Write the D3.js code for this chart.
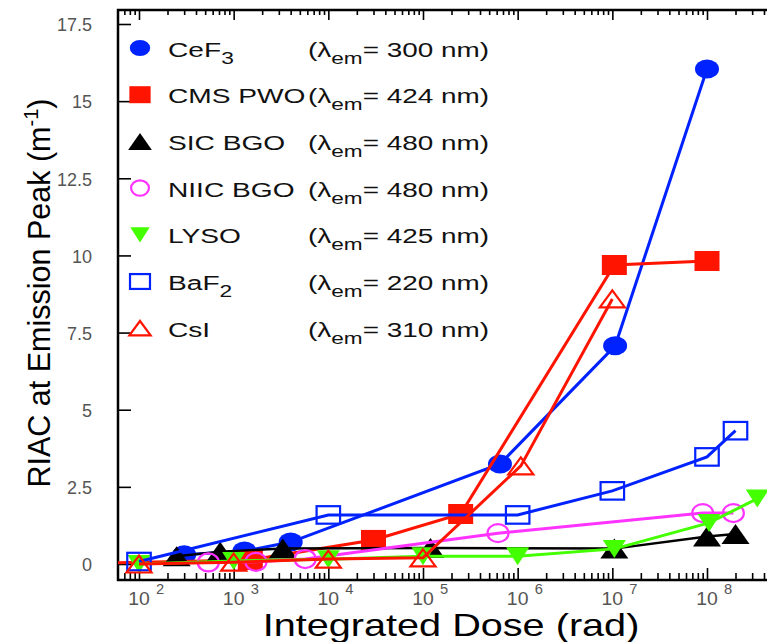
<!DOCTYPE html>
<html>
<head>
<meta charset="utf-8">
<script src="https://cdn.jsdelivr.net/npm/d3@7"></script>
<style>
  body { margin: 0; background: #fff; }
  svg { display: block; font-family: "Liberation Sans", Arial, sans-serif; }
</style>
</head>
<body>
<div id="chart"></div>
<script>
'use strict';

// ---- data ----
const seriesNames = ['CeF', 'CMS PWO', 'SIC BGO', 'NIIC BGO', 'LYSO', 'BaF', 'CsI'];
const nameSubscripts = ['3', '', '', '', '', '2', ''];
const emissionPeaks = [300, 424, 480, 480, 425, 220, 310];

const doseCeF3 = [300, 1300, 4000, 6.5e5, 1.07e7, 1e8];
const riacCeF3 = [0.3, 0.42, 0.71, 3.24, 7.07, 16.04];

const doseCmsPwo = [30, 1500, 3e4, 2.5e5, 1.05e7, 1e8];
const riacCmsPwo = [0.02, 0.13, 0.78, 1.62, 9.69, 9.82];

const doseSicBgo = [250, 720, 3300, 1.2e5, 1.05e7, 1e8, 2e8];
const riacSicBgo = [0.25, 0.4, 0.5, 0.52, 0.5, 0.89, 0.97];

const doseNiicBgo = [540, 1720, 5700, 6.2e5, 9e7, 1.9e8];
const riacNiicBgo = [0.05, 0.07, 0.16, 1.0, 1.65, 1.65];

const doseLyso = [100, 1000, 1e4, 1e5, 1e6, 1.05e7, 1.05e8, 3.4e8];
const riacLyso = [0.0, 0.1, 0.15, 0.25, 0.25, 0.49, 1.33, 2.12];

const doseBaF2 = [100, 1e4, 1e6, 1e7, 1e8, 2e8];
const riacBaF2 = [0.08, 1.59, 1.59, 2.37, 3.47, 4.32];

const doseCsI = [100, 1000, 1e4, 1e5, 1.08e6, 1e7];
const riacCsI = [0.0, 0.06, 0.16, 0.2, 3.18, 8.59];

const xDecades = [2, 3, 4, 5, 6, 7, 8];
const yTicks = [0, 2.5, 5, 7.5, 10, 12.5, 15, 17.5];
const yTickLabels = ['0', '2.5', '5', '7.5', '10', '12.5', '15', '17.5'];

const seriesDoses = [doseCeF3, doseCmsPwo, doseSicBgo, doseNiicBgo, doseLyso, doseBaF2, doseCsI];
const seriesRiac = [riacCeF3, riacCmsPwo, riacSicBgo, riacNiicBgo, riacLyso, riacBaF2, riacCsI];

// ---- styles ----
const styles = [
  {color: '#0022ff', shape: 'circle', filled: true, w: 24, h: 19},
  {color: '#ff1400', shape: 'square', filled: true, w: 25, h: 20},
  {color: '#000000', shape: 'triangle', filled: true, w: 28, h: 20},
  {color: '#ff33ff', shape: 'circle', filled: false, w: 21, h: 18},
  {color: '#44ff00', shape: 'triangleDown', filled: true, w: 23, h: 18},
  {color: '#0022ff', shape: 'square', filled: false, w: 23.5, h: 17.5},
  {color: '#ff1400', shape: 'triangle', filled: false, w: 25, h: 17},
];

const width = 767;
const height = 642;
const plot = {left: 118, right: 780, top: 10, bottom: 580};

const svg = d3.select('#chart').append('svg')
    .attr('width', width)
    .attr('height', height);

const x = d3.scaleLog().domain([1e2, 1e8]).range([139, 707]);
const y = d3.scaleLinear().domain([0, 17.5]).range([564, 24]);

svg.append('defs').append('clipPath')
    .attr('id', 'plot-clip')
    .append('rect')
    .attr('x', plot.left)
    .attr('y', plot.top)
    .attr('width', plot.right - plot.left)
    .attr('height', plot.bottom - plot.top);

/* Text in the reference is drawn wider than the font; a horizontal scale mimics it. */
function wideText(parent, px, py, sx) {
  return parent.append('g')
      .attr('transform', `translate(${px},${py}) scale(${sx},1)`)
      .append('text');
}

function drawMarker(g, st, cx, cy, scale) {
  const w = st.w * scale;
  const h = st.h * scale;
  const fill = st.filled ? st.color : 'none';
  const sw = st.filled ? 0 : 2.2;
  let m;
  if (st.shape === 'circle') {
    m = g.append('ellipse').attr('cx', cx).attr('cy', cy)
        .attr('rx', w / 2).attr('ry', h / 2);
  } else if (st.shape === 'square') {
    m = g.append('rect').attr('x', cx - w / 2).attr('y', cy - h / 2)
        .attr('width', w).attr('height', h);
  } else {
    const s = st.shape === 'triangle' ? 1 : -1;
    m = g.append('path').attr('d',
        `M${cx},${cy - s * h / 2}L${cx + w / 2},${cy + s * h / 2}` +
        `L${cx - w / 2},${cy + s * h / 2}Z`);
  }
  m.attr('fill', fill).attr('stroke', st.filled ? 'none' : st.color)
      .attr('stroke-width', sw);
}

// ---- axes ----
const majors = xDecades.map((d) => Math.pow(10, d));
const minors = [];
for (let d = 1; d <= 8; d++) {
  for (let k = 2; k <= 9; k++) {
    const v = k * Math.pow(10, d);
    if (x(v) > plot.left && x(v) < width) minors.push(v);
  }
}

function tickAxis(axis, values, size, ty) {
  const g = svg.append('g')
      .attr('transform', `translate(0,${ty})`)
      .call(axis.tickValues(values).tickSize(size).tickFormat(''));
  g.select('.domain').remove();
  g.selectAll('line').attr('stroke', '#000').attr('stroke-width', 1.6);
  return g;
}
tickAxis(d3.axisBottom(x), majors, -12, plot.bottom);
tickAxis(d3.axisBottom(x), minors, -7, plot.bottom);
tickAxis(d3.axisTop(x), majors, -10, plot.top);
tickAxis(d3.axisTop(x), minors, -5, plot.top);

const yAxisG = svg.append('g')
    .attr('transform', `translate(${plot.left},0)`)
    .call(d3.axisLeft(y).tickValues(yTicks).tickSize(-13).tickPadding(26)
        .tickFormat((d, i) => yTickLabels[i]));
yAxisG.select('.domain').remove();
yAxisG.selectAll('line').attr('stroke', '#000').attr('stroke-width', 1.6);
yAxisG.selectAll('text')
    .attr('fill', '#555')
    .attr('font-size', 18)
    .attr('font-family', '"Liberation Sans", Arial, sans-serif')
    .attr('dy', '0.38em');

// decade labels: 10 with raised exponent
const xLabels = svg.append('g');
xDecades.forEach((d) => {
  const px = x(Math.pow(10, d));
  wideText(xLabels, px, 605, 1.05)
      .attr('text-anchor', 'middle')
      .attr('font-size', 18.5)
      .attr('fill', '#555')
      .text('10');
  wideText(xLabels, px + 17, 594, 1.05)
      .attr('font-size', 14)
      .attr('fill', '#555')
      .text(d);
});

// frame
svg.append('path')
    .attr('d', `M${width},${plot.top}H${plot.left}V${plot.bottom}H${width}`)
    .attr('fill', 'none')
    .attr('stroke', '#000')
    .attr('stroke-width', 2.5);

// ---- series ----
const line = d3.line().x((d) => x(d[0])).y((d) => y(d[1]));
const plotArea = svg.append('g').attr('clip-path', 'url(#plot-clip)');
seriesNames.forEach((name, i) => {
  const pts = seriesDoses[i].map((v, j) => [v, seriesRiac[i][j]]);
  const st = styles[i];
  const g = plotArea.append('g');
  g.append('path')
      .attr('d', line(pts))
      .attr('fill', 'none')
      .attr('stroke', st.color)
      .attr('stroke-width', i === 2 ? 2.4 : 3);
  pts.forEach((p) => drawMarker(g, st, x(p[0]), y(p[1]), 1));
});

// ---- legend ----
const legend = svg.append('g');
seriesNames.forEach((name, i) => {
  const ly = 48 + i * 46.7;
  drawMarker(legend, styles[i], 140, ly, 0.85);
  const t = wideText(legend, 168, ly + 8.5, 1.34)
      .attr('font-size', 21)
      .attr('fill', '#111');
  t.append('tspan').text(name);
  if (nameSubscripts[i]) {
    t.append('tspan').attr('font-size', 17).attr('dy', 7).text(nameSubscripts[i]);
  }
  const w = wideText(legend, 308, ly + 8.5, 1.33)
      .attr('font-size', 21)
      .attr('fill', '#111');
  w.append('tspan').text('(λ');
  w.append('tspan').attr('font-size', 17).attr('dy', 7).text('em');
  w.append('tspan').attr('dy', -7).text(`= ${emissionPeaks[i]} nm)`);
});

// ---- titles ----
wideText(svg, 451, 636, 1.3)
    .attr('text-anchor', 'middle')
    .attr('font-size', 30.5)
    .attr('fill', '#000')
    .text('Integrated Dose (rad)');

const yTitle = svg.append('text')
    .attr('transform', 'translate(50,293) rotate(-90)')
    .attr('text-anchor', 'middle')
    .attr('font-size', 30.5)
    .attr('fill', '#000');
yTitle.append('tspan').text('RIAC at Emission Peak (m');
yTitle.append('tspan').attr('font-size', 20).attr('dy', -12).text('-1');
yTitle.append('tspan').attr('dy', 12).text(')');
</script>
</body>
</html>
